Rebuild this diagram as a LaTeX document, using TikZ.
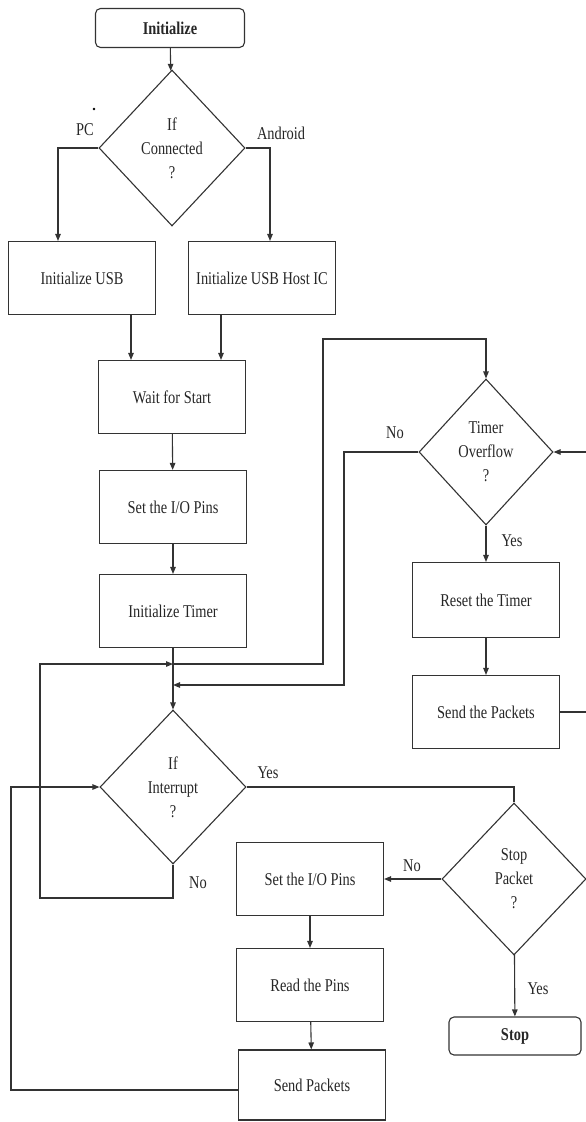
\documentclass[tikz,border=0pt]{standalone}
\usepackage{fontspec}
\setmainfont{Liberation Serif}[FakeStretch=0.8]
\usetikzlibrary{shapes.geometric,arrows.meta}
\newcommand\fsz{\fontsize{18}{24}\selectfont}
\begin{document}
\begin{tikzpicture}[x=1pt,y=-1pt,
  every node/.style={font=\fsz, text=black!85},
  box/.style={draw=black!80, line width=1.1pt, minimum width=147pt, minimum height=73pt, inner sep=0pt},
  term/.style={draw=black!80, line width=1.1pt, rounded corners=5pt, inner sep=0pt, font=\fsz\bfseries},
  dec/.style={draw=black!80, line width=1.1pt, diamond, inner sep=0pt, align=center},
  arr/.style={draw=black!80, line width=1.1pt, -{Triangle[length=7pt,width=5.5pt]}},
  ln/.style={draw=black!80, line width=1.1pt},
  lbl/.style={inner sep=0pt}
]
\useasboundingbox (0,0) rectangle (586,1122);

% nodes
\node[term, minimum width=149pt, minimum height=39pt] (init) at (170,28) {Initialize};
\node[dec, minimum width=146pt, minimum height=156pt] (d1) at (172,148) {If\\Connected\\?};
\node[box] (usb) at (82,278) {Initialize USB};
\node[box] (host) at (262,278) {Initialize USB Host IC};
\node[box] (wait) at (172,397) {Wait for Start};
\node[box] (pins1) at (173,507) {Set the I/O Pins};
\node[box] (timer) at (173,611) {Initialize Timer};
\node[dec, minimum width=146pt, minimum height=154pt] (d2) at (173,787) {If\\Interrupt\\?};
\node[dec, minimum width=134pt, minimum height=146pt] (tof) at (486,452) {Timer\\Overflow\\?};
\node[box, minimum height=75pt] (reset) at (486,600) {Reset the Timer};
\node[box] (sendp) at (486,712) {Send the Packets};
\node[dec, minimum width=144pt, minimum height=152pt] (stopq) at (514,879) {Stop\\Packet\\?};
\node[box] (pins2) at (310,879) {Set the I/O Pins};
\node[box] (read) at (310,985) {Read the Pins};
\node[box, minimum height=70pt] (send) at (312,1085) {Send Packets};
\node[term, minimum width=132pt, minimum height=38pt] (stop) at (515,1036) {Stop};

\coordinate (j1) at (173,664);
\coordinate (j2) at (173,685);

% connectors
\draw[arr] (init) -- (d1);
\draw[arr] (d1.west) -| ([xshift=-24pt]usb.north);
\draw[arr] (d1.east) -| ([xshift=8pt]host.north);
\draw[arr] ([xshift=49pt]usb.south) -- ([xshift=-41pt]wait.north);
\draw[arr] ([xshift=-41pt]host.south) -- ([xshift=49pt]wait.north);
\draw[arr] (wait) -- (pins1);
\draw[arr] (pins1) -- (timer);
\draw[arr] (timer) -- (d2);
\draw[arr] (j1) -| (323,339) -| (tof.north);
\draw[arr] (tof.west) -| (344,685) -- (j2);
\draw[arr] (tof) -- (reset);
\draw[arr] (reset) -- (sendp);
\draw[arr] (sendp.east) -| (586.5,452) -- (tof.east);
\draw[ln] (d2.east) -| (stopq.north);
\draw[arr] (stopq.west) -- (pins2.east);
\draw[arr] (stopq) -- (stop);
\draw[arr] (pins2) -- (read);
\draw[arr] (read) -- (send);
\draw[arr] (d2.south) |- (40,898) |- (j1);
\draw[arr] ([yshift=-5pt]send.west) -| (11,787) -- (d2.west);

% labels
\fill[black] (94,109) circle (1.3pt);
\node[lbl] (lpc) at (85,130) {PC};
\node[lbl] (land) at (281,133) {Android};
\node[lbl] (lno1) at (395,433) {No};
\node[lbl] (lyes1) at (512,541) {Yes};
\node[lbl] (lyes2) at (268,773) {Yes};
\node[lbl] (lno2) at (198,883) {No};
\node[lbl] (lno3) at (412,866) {No};
\node[lbl] (lyes3) at (538,989) {Yes};
\end{tikzpicture}
\end{document}
